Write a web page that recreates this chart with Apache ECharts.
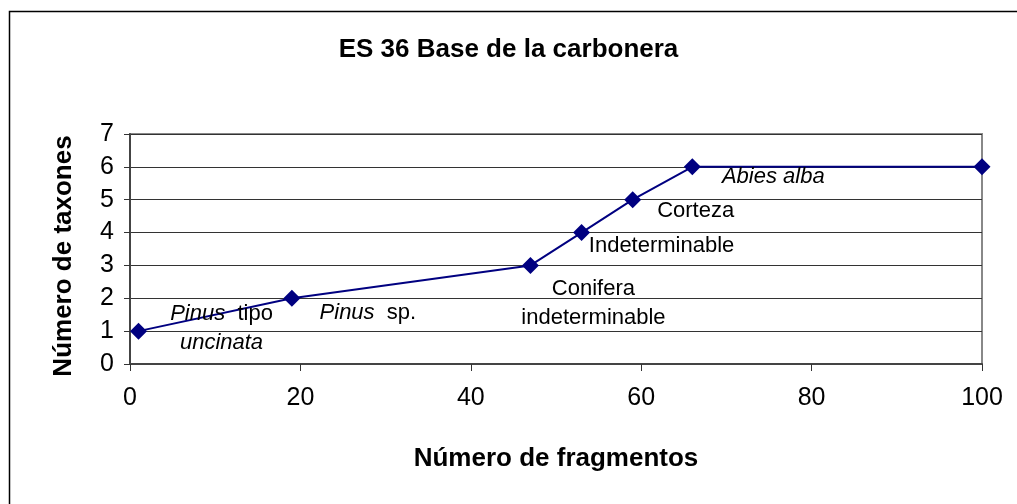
<!DOCTYPE html>
<html>
<head>
<meta charset="utf-8">
<script src="https://cdn.jsdelivr.net/npm/echarts@6/dist/echarts.min.js"></script>
<style>
  html, body { margin: 0; padding: 0; background: #fff; }
  #chart { width: 1017px; height: 504px; }
</style>
</head>
<body>
<div id="chart"></div>
<script>
// Cumulative taxa against number of charcoal fragments
const fragments = [1, 19, 47, 53, 59, 66, 100];
const taxa = [1, 2, 3, 4, 5, 6, 6];
// Taxon added at each step (rich-text markup, {i|...} = italic)
const notes = [
  '{i|Pinus}  tipo\n{i|uncinata}',
  '{i|Pinus}  sp.',
  'Conifera\nindeterminable',
  'Indeterminable',
  'Corteza',
  '{i|Abies alba}',
  ''
];
const noteOffsets = [[83, -3], [76, 15], [63, 38], [80, 13], [63, 11], [81, 10], [0, 0]];
const xTicks = [0, 20, 40, 60, 80, 100];
const yTicks = [0, 1, 2, 3, 4, 5, 6, 7];

const FONT = '"Liberation Sans", Arial, sans-serif';

const chart = echarts.init(document.getElementById('chart'), null, { renderer: 'canvas' });

const seriesData = fragments.map((x, i) => ({
  value: [x, taxa[i]],
  label: {
    show: notes[i] !== '',
    formatter: notes[i],
    position: 'inside',
    offset: noteOffsets[i]
  }
}));

chart.setOption({
  animation: false,
  backgroundColor: '#fff',
  title: {
    text: 'ES 36 Base de la carbonera',
    left: 'center',
    top: 32,
    textStyle: { fontFamily: FONT, fontWeight: 'bold', fontSize: 26, color: '#000' }
  },
  graphic: [{
    type: 'rect',
    shape: { x: 9.5, y: 11.5, width: 1200, height: 700 },
    style: { fill: 'none', stroke: '#000', lineWidth: 1.5 },
    silent: true
  }],
  grid: {
    left: 130, right: 35, top: 134, bottom: 140,
    show: true, borderColor: '#888', borderWidth: 2, backgroundColor: 'transparent'
  },
  xAxis: {
    type: 'value',
    min: xTicks[0], max: xTicks[xTicks.length - 1], interval: 20,
    name: 'Número de fragmentos',
    nameLocation: 'middle',
    nameGap: 82,
    nameTextStyle: { fontFamily: FONT, fontWeight: 'bold', fontSize: 26, color: '#000' },
    axisLine: { show: true, onZero: false, lineStyle: { color: '#444', width: 2 } },
    axisTick: { show: true, length: 7, lineStyle: { color: '#333', width: 1 } },
    axisLabel: { fontFamily: FONT, fontSize: 25, color: '#000', margin: 22 },
    splitLine: { show: false }
  },
  yAxis: {
    type: 'value',
    min: yTicks[0], max: yTicks[yTicks.length - 1], interval: 1,
    name: 'Número de taxones',
    nameLocation: 'middle',
    nameGap: 53,
    nameTextStyle: { fontFamily: FONT, fontWeight: 'bold', fontSize: 26, color: '#000', padding: [0, 14, 0, 0] },
    axisLine: { show: true, onZero: false, lineStyle: { color: '#444', width: 2 } },
    axisTick: { show: true, length: 6, lineStyle: { color: '#333', width: 1 } },
    axisLabel: { fontFamily: FONT, fontSize: 25, color: '#000', margin: 16 },
    splitLine: { show: true, lineStyle: { color: '#333', width: 1 } }
  },
  series: [{
    type: 'line',
    data: seriesData,
    symbol: 'diamond',
    symbolSize: 17,
    itemStyle: { color: '#000080' },
    lineStyle: { color: '#000080', width: 2 },
    label: {
      fontFamily: FONT,
      fontSize: 22,
      color: '#000',
      align: 'center',
      verticalAlign: 'middle',
      lineHeight: 29,
      rich: {
        i: { fontFamily: FONT, fontSize: 22, fontStyle: 'italic', color: '#000', lineHeight: 29 }
      }
    },
    z: 3
  }]
});
</script>
</body>
</html>
